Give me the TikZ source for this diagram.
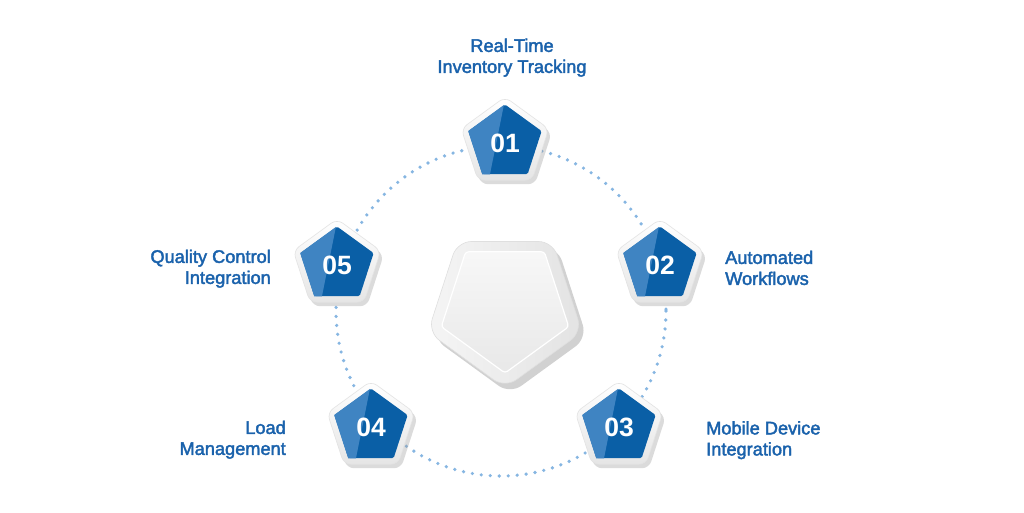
\documentclass[tikz,border=0pt]{standalone}
\usepackage{fontspec}
\setmainfont{Liberation Sans}
\newfontfamily\labfont[FakeBold=2.2]{Liberation Sans}
\usetikzlibrary{shapes.geometric,shadows,calc}
\definecolor{txtblue}{HTML}{1A62AC}
\definecolor{pdark}{HTML}{0A5FA6}
\definecolor{plight}{HTML}{3F84C2}
\definecolor{dotblue}{HTML}{86B6E2}
\begin{document}
\begin{tikzpicture}[x=1pt,y=-1pt,
  frame/.style={regular polygon, regular polygon sides=5, minimum size=92pt, inner sep=0pt,
    rounded corners=7pt, top color=white, bottom color=gray!20, draw=gray!22, line width=0.6pt,
    drop shadow={shadow xshift=3pt, shadow yshift=-4pt, opacity=0.35, fill=gray!80}},
  bluep/.style={regular polygon, regular polygon sides=5, minimum size=77pt, inner sep=0pt,
    fill=pdark, rounded corners=1.5pt},
  num/.style={font=\bfseries\fontsize{26.5}{26.5}\selectfont, text=white, inner sep=0pt},
  lab/.style={font=\labfont\fontsize{18.2}{21}\selectfont, text=txtblue, inner sep=0pt},
  bigframe/.style={regular polygon, regular polygon sides=5, shape border rotate=180,
    minimum size=162pt, inner sep=0pt, rounded corners=14pt,
    left color=gray!8, right color=gray!22, draw=gray!25, line width=0.6pt,
    drop shadow={shadow xshift=5pt, shadow yshift=-6pt, opacity=0.4, fill=gray!90}},
  biginner/.style={regular polygon, regular polygon sides=5, shape border rotate=180,
    minimum size=134pt, inner sep=0pt, rounded corners=3pt,
    top color=gray!6, bottom color=gray!18, draw=white, line width=1.2pt},
  dots/.style={dotblue, line width=3.6pt, line cap=round, dash pattern=on 0pt off 9pt}
]
\useasboundingbox (0,0) rectangle (1024,512);
\fill[white] (0,0) rectangle (1024,512);

\coordinate (ctr) at (501,311);
\draw[dots] (ctr) circle (165);

% central pentagon
\node[bigframe] (cf) at (505,307) {};
\node[biginner] (ci) at (505,306) {};

% small pentagons
\foreach \n/\x/\y in {1/505/143, 2/660/265, 3/619/427, 4/371/427, 5/337/265}{
  \node[frame] (f\n) at (\x,\y) {};
  \node[bluep] (p\n) at (\x,\y) {};
  \begin{scope}
    \clip (p\n.corner 1) -- (p\n.corner 2) -- (p\n.corner 3) -- (p\n.corner 4) -- (p\n.corner 5) -- cycle;
    \fill[plight] (p\n.corner 2) -- ($(p\n.corner 1)+(-1,0)$) -- ($(p\n.corner 3)!0.17!(p\n.corner 4)$) -- (p\n.corner 3) -- cycle;
  \end{scope}
  \node[num] (n\n) at (\x,\y) {0\n};
}

% labels
\node[lab, anchor=north, align=center] (t1) at (512,38.5) {Real-Time\\Inventory Tracking};
\node[lab, anchor=north west, align=left] (t2) at (725,250.5) {Automated\\Workflows};
\node[lab, anchor=north west, align=left] (t3) at (706,421) {Mobile Device\\Integration};
\node[lab, anchor=north east, align=right] (t4) at (286,420.5) {Load\\Management};
\node[lab, anchor=north east, align=right] (t5) at (271,249.5) {Quality Control\\Integration};
\end{tikzpicture}
\end{document}
